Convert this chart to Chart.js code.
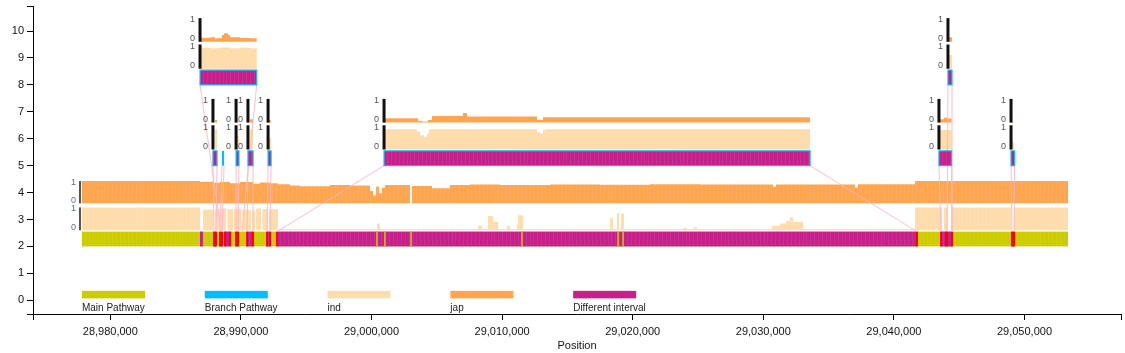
<!DOCTYPE html>
<html>
<head>
<meta charset="utf-8">
<script src="https://cdn.jsdelivr.net/npm/chart.js@4/dist/chart.umd.min.js"></script>
<style>
  html, body { margin: 0; padding: 0; background: #fff; }
  #wrap { width: 1125px; height: 353px; }
</style>
</head>
<body>
<div id="wrap"><canvas id="chart"></canvas></div>
<script>
// positions are in kb, values are coverage 0..1

const mainPathway = [28977.83, 29053.33];

const minorIntervals = [[28986.87, 28987.10]];

const diffIntervals = [
  [28987.94, 28988.09], [28988.40, 28988.55], [28988.78, 28989.17],
  [28989.63, 28989.78], [28990.47, 28990.93], [28992.00, 28992.23],
  [28992.76, 29041.77], [29043.61, 29043.99], [29044.07, 29044.45],
  [29049.04, 29049.20]
];

// short main pathway pieces showing through the big interval
const pathwayGaps = [29000.42, 29001.03, 29003.03, 29011.52, 29018.88, 29019.26];

const japMain = [
  [28977.83, 1.0], [28986.87, 0.95], [28987.10, 0.97], [28987.94, 0.92], [28988.40, 0.96],
  [28989.17, 0.9], [28989.93, 0.95], [28990.93, 0.88], [28991.46, 0.93], [28992.23, 0.9],
  [28992.84, 0.86], [28993.76, 0.8], [28994.53, 0.76], [28996.82, 0.82], [28998.35, 0.8],
  [28999.89, 0.55], [29000.12, 0.35], [29000.35, 0.75], [29000.57, 0.45], [29000.80, 0.7],
  [29001.03, 0.82], [29002.95, 0.0], [29003.10, 0.78], [29004.63, 0.68], [29006.01, 0.82],
  [29007.54, 0.84], [29009.84, 0.82], [29013.67, 0.84], [29017.50, 0.83], [29021.33, 0.86],
  [29025.15, 0.84], [29030.74, 0.74], [29030.97, 0.84], [29037.02, 0.7], [29037.25, 0.85],
  [29041.62, 1.0], [29053.33, 1.0]
];

const indMain = [
  [28977.83, 1.0], [28986.87, 0.0], [28987.10, 0.9], [28987.90, 0.0], [28988.02, 0.93],
  [28988.40, 0.0], [28988.48, 0.95], [28988.86, 0.0], [28988.97, 0.92], [28989.40, 0.0],
  [28989.47, 0.94], [28990.05, 0.0], [28990.12, 0.9], [28990.77, 0.0], [28990.88, 0.86],
  [28991.08, 0.0], [28991.16, 0.95], [28991.54, 0.0], [28991.65, 0.93], [28992.08, 0.0],
  [28992.15, 0.92], [28992.84, 0.06], [29000.42, 0.3],
  [29000.65, 0.06], [29008.16, 0.2], [29008.46, 0.06], [29008.92, 0.62], [29009.30, 0.36],
  [29009.69, 0.06], [29010.38, 0.2], [29010.61, 0.06], [29011.14, 0.25], [29011.22, 0.66],
  [29011.60, 0.06], [29018.26, 0.52], [29018.49, 0.06], [29018.80, 0.76], [29018.95, 0.06],
  [29019.10, 0.73], [29019.33, 0.06], [29023.85, 0.1], [29024.16, 0.06], [29024.62, 0.12],
  [29024.92, 0.06], [29030.67, 0.2], [29031.28, 0.3], [29031.74, 0.4], [29032.04, 0.57],
  [29032.27, 0.36], [29033.04, 0.06], [29041.62, 1.0], [29043.68, 0.0], [29043.84, 1.0],
  [29044.14, 0.0], [29044.37, 1.0], [29048.97, 0.0], [29049.20, 1.0], [29053.33, 1.0]
];

// zoomed views, row at y = 5
const japMid = [
  [28987.86, 0], [28988.02, 0.12], [28988.17, 0],
  [28989.63, 0], [28989.78, 0.05], [28989.85, 0],
  [28990.54, 0], [28990.70, 0.15], [28990.93, 0],
  [28992.08, 0], [28992.15, 0.1], [28992.31, 0],
  [29000.96, 0.19], [29003.56, 0.08], [29003.87, 0.05], [29004.33, 0.12], [29004.63, 0.29],
  [29007.01, 0.43], [29007.31, 0.27], [29012.67, 0.12], [29013.13, 0.24], [29033.58, 0],
  [29043.45, 0.15], [29043.84, 0.22], [29044.07, 0.18], [29044.42, 0],
  [29048.97, 0.05], [29049.12, 0]
];

const indMid = [
  [28987.86, 0], [28988.02, 0.9], [28988.17, 0],
  [28989.63, 0.6], [28989.85, 0],
  [28990.54, 0], [28990.70, 0.9], [28990.93, 0],
  [28992.08, 0.5], [28992.31, 0],
  [29000.96, 0.88], [29003.48, 0.8], [29003.71, 0.62], [29004.02, 0.56], [29004.25, 0.7],
  [29004.40, 0.88], [29012.67, 0.75], [29012.90, 0.71], [29013.13, 0.85], [29013.36, 0.88],
  [29033.58, 0],
  [29043.45, 0.85], [29044.42, 0],
  [29049.04, 0.3], [29049.24, 0]
];

// zoomed views, row at y = 8
const japTop = [
  [28986.87, 0.18], [28987.63, 0.2], [28988.02, 0.16], [28988.55, 0.3], [28988.71, 0.38],
  [28989.01, 0.3], [28989.17, 0.2], [28989.93, 0.17], [28990.70, 0.16], [28991.21, 0],
  [29044.14, 0], [29044.22, 0.2], [29044.45, 0]
];

const indTop = [
  [28986.87, 0.92], [28987.63, 0.9], [28988.40, 0.93], [28989.17, 0.9], [28989.93, 0.92],
  [28990.70, 0.9], [28991.21, 0],
  [29044.14, 0.6], [29044.45, 0]
];

const legendLabels = ['Main Pathway', 'Branch Pathway', 'ind', 'jap', 'Different interval'];

const xTicks = [28980, 28990, 29000, 29010, 29020, 29030, 29040, 29050];
const yTicks = [0, 1, 2, 3, 4, 5, 6, 7, 8, 9, 10];

// where each zoomed view sits and which stretch of the main track it blows up
const insets = [
  { from: 28986.87, to: 28991.21, base: 8, target: [28988.48, 28990.08] },
  { from: 29044.14, to: 29044.45, base: 8, target: [29044.07, 29044.45] },
  { from: 28987.86, to: 28988.17, base: 5, target: [28987.94, 28988.09] },
  { from: 28988.55, to: 28988.71, base: 5, target: [28988.40, 28988.55], branch: true },
  { from: 28989.63, to: 28989.85, base: 5, target: [28989.63, 28989.78] },
  { from: 28990.54, to: 28990.93, base: 5, target: [28990.47, 28990.93] },
  { from: 28992.08, to: 28992.31, base: 5, target: [28992.00, 28992.23] },
  { from: 29000.96, to: 29033.58, base: 5, target: [28992.76, 29041.77] },
  { from: 29043.45, to: 29044.42, base: 5, target: [29043.61, 29044.45] },
  { from: 29048.97, to: 29049.24, base: 5, target: [29049.04, 29049.20] }
];

const GREEN = '#cccc00', BLUE = '#00bfff', IND = '#ffdcab', JAP = '#ffa54f', MAGENTA = '#c8208b';
const X_MIN = 28974.08, X_MAX = 29057.39, Y_MIN = -0.51, Y_MAX = 10.93;

// track layout relative to a row base
const BAR_H = 0.55, IND_LO = 0.6, IND_H = 0.85, JAP_LO = 1.6, JAP_H = 0.83;

function profile(rows, base, lo, h) {
  return rows.map(([p, v]) => ({ x: p, y: base + lo + v * h }));
}

function track(label, rows, base, lo, h, color) {
  return {
    label,
    data: profile(rows, base, lo, h),
    stepped: true,
    borderWidth: 0,
    pointRadius: 0,
    backgroundColor: color,
    fill: { value: base + lo }
  };
}

const trackPlugin = {
  id: 'tracks',
  afterDatasetsDraw(chart) {
    const { ctx, scales: { x, y } } = chart;
    const X = v => x.getPixelForValue(v);
    const Y = v => y.getPixelForValue(v);
    const box = (x0, x1, y0, y1, fill) => {
      ctx.fillStyle = fill;
      ctx.fillRect(X(x0), Y(y1), Math.max(X(x1) - X(x0), 1), Y(y0) - Y(y1));
    };
    ctx.save();

    // main track
    box(mainPathway[0], mainPathway[1], 2, 2 + BAR_H, GREEN);
    minorIntervals.forEach(([a, b]) => box(a, b, 2, 2 + BAR_H, MAGENTA));
    diffIntervals.forEach(([a, b]) => box(a, b, 2, 2 + BAR_H, MAGENTA));

    // faint bin stripes over the main bands
    ctx.fillStyle = 'rgba(255,255,255,0.07)';
    for (let px = X(mainPathway[0]) + 3; px < X(mainPathway[1]); px += 3.9) {
      ctx.fillRect(Math.round(px), Y(2 + JAP_LO + JAP_H), 1, Y(2) - Y(2 + JAP_LO + JAP_H));
    }

    ctx.strokeStyle = GREEN;
    ctx.lineWidth = 1.5;
    pathwayGaps.forEach(p => {
      ctx.beginPath();
      ctx.moveTo(X(p), Y(2));
      ctx.lineTo(X(p), Y(2 + BAR_H));
      ctx.stroke();
    });
    ctx.strokeStyle = '#ff0000';
    ctx.lineWidth = 2;
    diffIntervals.forEach(([a, b]) => {
      [a, b].forEach(p => {
        ctx.beginPath();
        ctx.moveTo(X(p), Y(2));
        ctx.lineTo(X(p), Y(2 + BAR_H));
        ctx.stroke();
      });
    });

    // links from zoomed views down to the main track
    ctx.strokeStyle = 'rgba(255,182,193,0.9)';
    ctx.lineWidth = 1;
    insets.forEach(s => {
      ctx.beginPath();
      ctx.moveTo(X(s.from), Y(s.base));
      ctx.lineTo(X(s.target[0]), Y(2 + BAR_H));
      ctx.moveTo(X(s.to), Y(s.base));
      ctx.lineTo(X(s.target[1]), Y(2 + BAR_H));
      ctx.stroke();
    });

    // zoomed view bars and small axes
    ctx.font = '9px "Liberation Sans", Arial, sans-serif';
    ctx.textAlign = 'right';
    ctx.textBaseline = 'middle';
    insets.forEach(s => {
      const x0 = X(s.from), x1 = X(s.to);
      const yt = Y(s.base + BAR_H), yb = Y(s.base);
      const w = Math.max(x1 - x0, 2);
      if (s.branch) {
        ctx.fillStyle = BLUE;
        ctx.fillRect(x0, yt, w, yb - yt);
        return;
      }
      ctx.fillStyle = MAGENTA;
      ctx.fillRect(x0, yt, w, yb - yt);
      ctx.fillStyle = 'rgba(255,255,255,0.07)';
      for (let px = x0 + 3; px < x1 - 1; px += 3.9) ctx.fillRect(Math.round(px), yt, 1, yb - yt);
      ctx.strokeStyle = BLUE;
      ctx.lineWidth = 1.2;
      ctx.strokeRect(x0, yt, w, yb - yt);
      ctx.fillStyle = '#111';
      [[IND_LO, IND_H], [JAP_LO, JAP_H]].forEach(([lo, h]) => {
        const a = Y(s.base + lo), b = Y(s.base + lo + h + 0.05);
        ctx.fillRect(x0 - 1.5, b, 3, a - b);
      });
      ctx.fillStyle = '#555';
      [[IND_LO, IND_H], [JAP_LO, JAP_H]].forEach(([lo, h]) => {
        ctx.fillText('1', x0 - 5, Y(s.base + lo + h - 0.02));
        ctx.fillText('0', x0 - 5, Y(s.base + lo + 0.12));
      });
    });

    // main track axes
    const ax = X(mainPathway[0]) - 2;
    [[IND_LO, IND_H], [JAP_LO, JAP_H]].forEach(([lo, h]) => {
      ctx.fillStyle = '#555';
      ctx.fillRect(ax - 1, Y(2 + lo + h), 2, Y(2 + lo) - Y(2 + lo + h));
      ctx.fillStyle = '#5d6f92';
      ctx.fillText('1', ax - 4, Y(2 + lo + h - 0.05));
      ctx.fillText('0', ax - 4, Y(2 + lo + 0.1));
    });

    // legend
    const colors = [GREEN, BLUE, IND, JAP, MAGENTA];
    ctx.textAlign = 'left';
    ctx.font = '10px "Liberation Sans", Arial, sans-serif';
    legendLabels.forEach((label, i) => {
      const lx = X(mainPathway[0]) + i * 122.8;
      ctx.fillStyle = colors[i];
      ctx.fillRect(lx, Y(0.35), 63, Y(0.07) - Y(0.35));
      ctx.fillStyle = '#222';
      ctx.fillText(label, lx, Y(-0.3));
    });
    ctx.restore();
  }
};

new Chart(document.getElementById('chart'), {
  type: 'line',
  data: {
    datasets: [
      track('jap', japMain, 2, JAP_LO, JAP_H, JAP),
      track('ind', indMain, 2, IND_LO, IND_H, IND),
      track('jap zoom', japMid, 5, JAP_LO, JAP_H, JAP),
      track('ind zoom', indMid, 5, IND_LO, IND_H, IND),
      track('jap zoom 2', japTop, 8, JAP_LO, JAP_H, JAP),
      track('ind zoom 2', indTop, 8, IND_LO, IND_H, IND)
    ]
  },
  options: {
    responsive: true,
    maintainAspectRatio: false,
    animation: false,
    layout: { padding: { top: 6, right: 4, left: 0, bottom: 0 } },
    plugins: { legend: { display: false }, tooltip: { enabled: false } },
    scales: {
      x: {
        type: 'linear',
        min: X_MIN,
        max: X_MAX,
        afterBuildTicks: s => { s.ticks = [X_MIN, ...xTicks, X_MAX].map(v => ({ value: v })); },
        afterFit: s => { s.height = 39; s.paddingLeft = 0; s.paddingRight = 0; },
        ticks: {
          autoSkip: false,
          maxRotation: 0,
          padding: 5,
          color: '#111',
          font: { family: '"Liberation Sans", Arial, sans-serif', size: 11 },
          callback: v => (v === X_MIN || v === X_MAX) ? '' : Math.round(v * 1000).toLocaleString('en-US')
        },
        grid: { drawOnChartArea: false, drawTicks: true, tickLength: 6, color: '#000' },
        border: { color: '#000', width: 1 },
        title: {
          display: true,
          text: 'Position',
          color: '#111',
          padding: { top: 0, bottom: 0 },
          font: { family: '"Liberation Sans", Arial, sans-serif', size: 11 }
        }
      },
      y: {
        type: 'linear',
        min: Y_MIN,
        max: Y_MAX,
        afterBuildTicks: s => { s.ticks = [Y_MIN, ...yTicks, Y_MAX].map(v => ({ value: v })); },
        afterFit: s => { s.width = 33; s.paddingTop = 0; s.paddingBottom = 0; },
        ticks: {
          padding: 3,
          color: '#111',
          font: { family: '"Liberation Sans", Arial, sans-serif', size: 11 },
          callback: v => (v === Y_MIN || v === Y_MAX) ? '' : v
        },
        grid: { drawOnChartArea: false, drawTicks: true, tickLength: 6, color: '#000' },
        border: { color: '#000', width: 1 }
      }
    }
  },
  plugins: [trackPlugin]
});
</script>
</body>
</html>
